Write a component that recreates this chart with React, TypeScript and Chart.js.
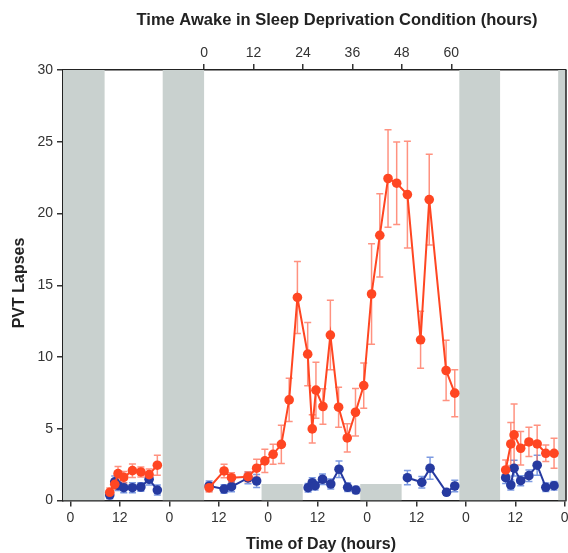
import React, { useEffect, useRef } from "react";
import { Chart, registerables } from "chart.js";

Chart.register(...registerables);

// Time of day axis (hours since midnight of day 1)
const hourTicks = [0, 12, 24, 36, 48, 60, 72, 84, 96, 108, 120];
const awakeTicks = [0, 12, 24, 36, 48, 60];
const awakeOffset = 32.45; // hour of day (continuous) at which time awake = 0
const yTicks = [0, 5, 10, 15, 20, 25, 30];

// Sleep periods (gray bands)
const nightStart = [-10, 22.4, 46.4, 70.35, 94.4, 118.4];
const nightEnd = [8.3, 32.45, 56.4, 80.4, 104.3, 130];
const nightTop = [30, 30, 1.15, 1.15, 30, 30];

// Sleep deprivation condition (red)
const sdHours = [9.55, 10.76, 11.56, 12.95, 15.05, 17.1, 19.1, 21.1, 27, 33.67, 37.3, 39.1, 43.1, 45.2, 47.2, 49.2, 51.2, 53.1, 55.1, 57.6, 58.7, 59.6, 61.3, 63.1, 65.1, 67.2, 69.2, 71.2, 73.1, 75.1, 77.1, 79.2, 81.8, 85.0, 87.1, 91.2, 93.3, 99, 105.66, 106.9, 107.7, 109.3, 111.3, 113.3, 115.4, 117.4];
const sdLapses = [0.57, 1.13, 1.87, 1.62, 2.08, 1.99, 1.8, 2.46, null, 0.89, 2.06, 1.59, 1.66, 2.25, 2.76, 3.22, 3.91, 7.01, 14.15, 10.2, 4.99, 7.69, 6.55, 11.53, 6.5, 4.36, 6.15, 8.01, 14.39, 18.48, 22.44, 22.11, 21.32, 11.2, 20.97, 9.06, 7.48, null, 2.13, 3.94, 4.57, 3.64, 4.08, 3.94, 3.29, 3.29];
const sdErr = [0.3, 0.35, 0.5, 0.4, 0.47, 0.35, 0.4, 0.7, null, 0.3, 0.47, 0.35, 0.35, 0.63, 0.81, 0.7, 1.33, 1.51, 2.51, 2.2, 0.98, 1.95, 1.23, 2.42, 1.4, 0.98, 1.65, 1.58, 3.5, 2.9, 3.4, 2.88, 3.72, 1.98, 3.16, 2.1, 1.64, null, 0.7, 1.5, 2.16, 1.16, 1.02, 1.3, 0.58, 1.05];

// Control condition (blue)
const ctlHours = [9.55, 10.76, 11.56, 12.95, 15.05, 17.1, 19.1, 21.1, 27, 33.67, 37.3, 39.1, 43.1, 45.2, 51, 57.7, 58.7, 59.4, 61.2, 63.2, 65.2, 67.3, 69.3, 75, 81.8, 85.3, 87.3, 91.3, 93.3, 99, 105.66, 106.9, 107.7, 109.3, 111.3, 113.3, 115.4, 117.4];
const ctlLapses = [0.38, 1.3, 1.05, 0.89, 0.89, 0.94, 1.48, 0.73, null, 1.01, 0.8, 0.96, 1.57, 1.36, null, 0.89, 1.24, 1.03, 1.48, 1.15, 2.18, 0.92, 0.73, null, 1.59, 1.27, 2.25, 0.57, 1.01, null, 1.59, 1.08, 2.25, 1.38, 1.73, 2.46, 0.92, 1.03];
const ctlErr = [0.25, 0.4, 0.35, 0.35, 0.35, 0.3, 0.4, 0.35, null, 0.35, 0.3, 0.35, 0.4, 0.45, null, 0.3, 0.35, 0.3, 0.37, 0.35, 0.58, 0.3, 0.25, null, 0.5, 0.4, 0.77, 0.2, 0.4, null, 0.4, 0.35, 0.55, 0.35, 0.4, 0.7, 0.3, 0.3];

const RED = "rgb(255,70,34)";
const BLUE = "rgb(38,58,160)";
const RED_ERR = "rgba(255,110,85,0.75)";
const BLUE_ERR = "rgba(80,120,215,0.75)";
const GRAY = "#c9d1cf";
const FONT = "'Liberation Sans', Arial, sans-serif";

const X_MIN = -1.8;
const X_MAX = 120.3;

const bandsPlugin = {
  id: "bands",
  beforeDatasetsDraw(chart: any) {
    const { ctx, chartArea, scales } = chart;
    const x = scales.x;
    const y = scales.y;
    ctx.save();
    ctx.beginPath();
    ctx.rect(chartArea.left, chartArea.top, chartArea.right - chartArea.left, chartArea.bottom - chartArea.top);
    ctx.clip();
    ctx.fillStyle = GRAY;
    for (let i = 0; i < nightStart.length; i++) {
      const x0 = x.getPixelForValue(nightStart[i]);
      const x1 = x.getPixelForValue(nightEnd[i]);
      const yt = y.getPixelForValue(nightTop[i]);
      const yb = y.getPixelForValue(0);
      ctx.fillRect(x0, yt, x1 - x0, yb - yt);
    }
    // error bars
    const drawErr = (hours: number[], vals: (number | null)[], errs: (number | null)[], color: string) => {
      ctx.strokeStyle = color;
      ctx.lineWidth = 1.5;
      for (let i = 0; i < hours.length; i++) {
        const v = vals[i];
        const e = errs[i];
        if (v == null || e == null) continue;
        const px = x.getPixelForValue(hours[i]);
        const yHi = y.getPixelForValue(v + e);
        const yLo = y.getPixelForValue(Math.max(0, v - e));
        ctx.beginPath();
        ctx.moveTo(px, yHi);
        ctx.lineTo(px, yLo);
        ctx.moveTo(px - 3.5, yHi);
        ctx.lineTo(px + 3.5, yHi);
        ctx.moveTo(px - 3.5, yLo);
        ctx.lineTo(px + 3.5, yLo);
        ctx.stroke();
      }
    };
    drawErr(ctlHours, ctlLapses, ctlErr, BLUE_ERR);
    drawErr(sdHours, sdLapses, sdErr, RED_ERR);
    ctx.restore();
  },
  afterDraw(chart: any) {
    const { ctx, chartArea } = chart;
    ctx.save();
    ctx.strokeStyle = "#222";
    ctx.lineWidth = 1.5;
    ctx.beginPath();
    ctx.moveTo(chartArea.right, chartArea.top);
    ctx.lineTo(chartArea.right, chartArea.bottom);
    ctx.stroke();
    // titles
    ctx.fillStyle = "#222";
    ctx.font = `bold 16.5px ${FONT}`;
    ctx.textAlign = "center";
    ctx.textBaseline = "middle";
    ctx.fillText("Time Awake in Sleep Deprivation Condition (hours)", 337, 20);
    ctx.font = `bold 16px ${FONT}`;
    ctx.fillText("Time of Day (hours)", 321, 545);
    ctx.translate(20, 283);
    ctx.rotate(-Math.PI / 2);
    ctx.fillText("PVT Lapses", 0, 0);
    ctx.restore();
  },
};

function toPoints(hours: number[], vals: (number | null)[]) {
  return hours.map((h, i) => ({ x: h, y: vals[i] }));
}

const noSidePad = (s: any) => {
  s.paddingLeft = 0;
  s.paddingRight = 0;
};

export default function App() {
  const ref = useRef<HTMLCanvasElement>(null);
  useEffect(() => {
    if (!ref.current) return;
    const tickFont = { family: FONT, size: 14 };
    const chart = new Chart(ref.current, {
      type: "line",
      data: {
        datasets: [
          {
            label: "Sleep Deprivation",
            data: toPoints(sdHours, sdLapses) as any,
            borderColor: RED,
            backgroundColor: RED,
            pointBackgroundColor: RED,
            pointBorderColor: RED,
            pointBorderWidth: 0,
            pointRadius: 4.8,
            borderWidth: 2,
            spanGaps: false,
            xAxisID: "x",
            yAxisID: "y",
          },
          {
            label: "Control",
            data: toPoints(ctlHours, ctlLapses) as any,
            borderColor: BLUE,
            backgroundColor: BLUE,
            pointBackgroundColor: BLUE,
            pointBorderColor: BLUE,
            pointBorderWidth: 0,
            pointRadius: 4.8,
            borderWidth: 2,
            spanGaps: false,
            xAxisID: "x",
            yAxisID: "y",
          },
        ],
      },
      options: {
        responsive: false,
        animation: false,
        layout: { autoPadding: false, padding: { left: 0, right: 2, top: 0, bottom: 0 } },
        plugins: { legend: { display: false }, tooltip: { enabled: false } },
        elements: { line: { tension: 0 } },
        scales: {
          x: {
            type: "linear",
            position: "bottom",
            min: X_MIN,
            max: X_MAX,
            afterBuildTicks: (s: any) => {
              s.ticks = hourTicks.map((v) => ({ value: v }));
            },
            afterFit: (s: any) => {
              s.height = 52.5;
              noSidePad(s);
            },
            ticks: {
              callback: (v: any) => (Number(v) % 24 === 0 ? "0" : "12"),
              font: tickFont,
              color: "#333",
              padding: 3,
              maxRotation: 0,
              autoSkip: false,
            },
            grid: { drawOnChartArea: false, drawTicks: true, tickLength: 6, color: "#333", lineWidth: 1.5 },
            border: { display: true, color: "#222", width: 1.5 },
          },
          x2: {
            type: "linear",
            position: "top",
            min: X_MIN - awakeOffset,
            max: X_MAX - awakeOffset,
            afterBuildTicks: (s: any) => {
              s.ticks = awakeTicks.map((v) => ({ value: v }));
            },
            afterFit: (s: any) => {
              s.height = 70;
              noSidePad(s);
            },
            ticks: { font: tickFont, color: "#333", padding: 2, maxRotation: 0, autoSkip: false },
            grid: { drawOnChartArea: false, drawTicks: true, tickLength: 6, color: "#333", lineWidth: 1.5 },
            border: { display: true, color: "#222", width: 1.5 },
          },
          y: {
            type: "linear",
            position: "left",
            min: 0,
            max: 30,
            afterBuildTicks: (s: any) => {
              s.ticks = yTicks.map((v) => ({ value: v }));
            },
            afterFit: (s: any) => {
              s.width = 63;
              s.paddingTop = 0;
              s.paddingBottom = 0;
            },
            ticks: { font: tickFont, color: "#333", padding: 4 },
            grid: { drawOnChartArea: false, drawTicks: true, tickLength: 6, color: "#333", lineWidth: 1.5 },
            border: { display: true, color: "#222", width: 1.5 },
          },
        },
      } as any,
      plugins: [bandsPlugin],
    });
    return () => chart.destroy();
  }, []);
  return (
    <div style={{ position: "fixed", left: 0, top: 0, width: 568, height: 553, background: "#fff" }}>
      <canvas ref={ref} width={568} height={553} style={{ display: "block", width: 568, height: 553 }} />
    </div>
  );
}
